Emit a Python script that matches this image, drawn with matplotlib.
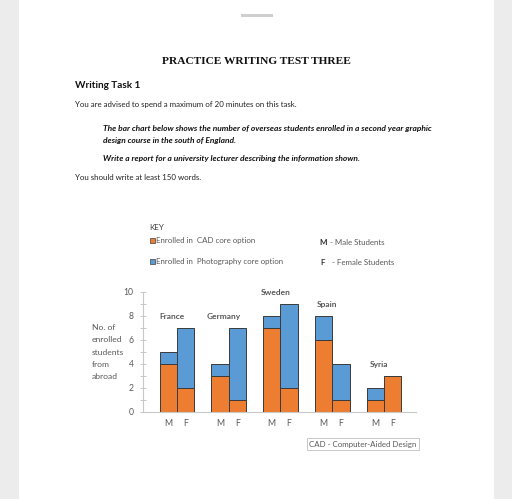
import matplotlib
matplotlib.use("Agg")
import matplotlib.pyplot as plt
from matplotlib.patches import Rectangle
import numpy as np

countries = ["France", "Germany", "Sweden", "Spain", "Syria"]
genders = ["M", "F"]
# CAD core option (orange), Photography core option (blue); [M, F] per country
cad = [[4, 2], [3, 1], [7, 2], [6, 1], [1, 3]]
photo = [[1, 5], [1, 6], [1, 7], [2, 3], [1, 0]]
yticks = [0, 2, 4, 6, 8, 10]

ORANGE = "#ED7D31"
BLUE = "#5B9BD5"
GREY_TXT = "#595959"
CHART = ["Lato", "DejaVu Sans"]
BODY = ["Lato", "DejaVu Sans"]

W, H = 512, 499
fig = plt.figure(figsize=(W / 100, H / 100), dpi=100)
fig.patch.set_facecolor("#ececec")


def fx(px):
    return px / W


def fy(py):
    return 1 - py / H


# white page + handle
fig.add_artist(Rectangle((fx(19), 0), fx(494 - 19), 1, transform=fig.transFigure,
                         facecolor="white", edgecolor="none", zorder=0))
fig.add_artist(Rectangle((fx(241), fy(17)), fx(32), 3 / H, transform=fig.transFigure,
                         facecolor="#cfcfcf", edgecolor="none", zorder=1))

# document text
fig.text(fx(256), fy(61), "PRACTICE WRITING TEST THREE", ha="center", va="center",
         family="Liberation Serif", weight="bold", fontsize=8.2, color="#111111")
fig.text(fx(75), fy(86), "Writing Task 1", ha="left", va="center",
         family=BODY, weight="bold", fontsize=7.2, color="#111111")
fig.text(fx(75), fy(104), "You are advised to spend a maximum of 20 minutes on this task.",
         ha="left", va="center", family=BODY, fontsize=5.7, color="#222222")
fig.text(fx(103), fy(128), "The bar chart below shows the number of overseas students enrolled in a second year graphic",
         ha="left", va="center", family=BODY, weight="bold", style="italic", fontsize=6.0, color="#111111")
fig.text(fx(103), fy(141), "design course in the south of England.",
         ha="left", va="center", family=BODY, weight="bold", style="italic", fontsize=6.0, color="#111111")
fig.text(fx(103), fy(158), "Write a report for a university lecturer describing the information shown.",
         ha="left", va="center", family=BODY, weight="bold", style="italic", fontsize=6.0, color="#111111")
fig.text(fx(75), fy(178), "You should write at least 150 words.",
         ha="left", va="center", family=BODY, fontsize=5.7, color="#222222")

# key
fig.text(fx(149), fy(227), "KEY", ha="left", va="center", family=CHART, fontsize=5.8,
         color="#444444")
for py, col, lab in [(240.5, ORANGE, "Enrolled in  CAD core option"),
                     (261.5, BLUE, "Enrolled in  Photography core option")]:
    fig.add_artist(Rectangle((fx(150), fy(py) - 2.5 / H), 5 / W, 5 / H, transform=fig.transFigure,
                             facecolor=col, edgecolor="#404040", linewidth=0.5))
    fig.text(fx(156.5), fy(py), lab, ha="left", va="center", family=CHART,
             fontsize=5.7, color=GREY_TXT)
fig.text(fx(319), fy(243), "M", ha="left", va="center", family=CHART, weight="bold",
         fontsize=5.8, color="#333333")
fig.text(fx(330), fy(243), "- Male Students", ha="left", va="center", family=CHART,
         fontsize=5.7, color=GREY_TXT)
fig.text(fx(320), fy(262.5), "F", ha="left", va="center", family=CHART, weight="bold",
         fontsize=5.8, color="#333333")
fig.text(fx(332), fy(262.5), "- Female Students", ha="left", va="center", family=CHART,
         fontsize=5.7, color=GREY_TXT)

# y label
for i, line in enumerate(["No. of", "enrolled", "students", "from", "abroad"]):
    fig.text(fx(92), fy(327.5 + i * 12.3), line, ha="left", va="center", family=CHART,
             fontsize=6.1, color=GREY_TXT)

# chart axes
ax = fig.add_axes([fx(142.7), fy(411.7), fx(416 - 142.7), (411.7 - 291.7) / H])
ax.set_facecolor("none")
bw = 0.335
centers = np.arange(len(countries))
for i, c in enumerate(countries):
    for j, g in enumerate(genders):
        xc = centers[i] + (j - 0.5) * bw
        ax.bar(xc, cad[i][j], width=bw, color=ORANGE, edgecolor="#3a3a3a", linewidth=0.7)
        ax.bar(xc, photo[i][j], bottom=cad[i][j], width=bw, color=BLUE,
               edgecolor="#3a3a3a", linewidth=0.7)
        ax.text(xc, -0.95, g, ha="center", va="center", family=CHART, fontsize=6.3,
                color=GREY_TXT, clip_on=False)
    top = max(cad[i][k] + photo[i][k] for k in range(2))
    ax.text(centers[i] - 0.1, top + 0.95, c, ha="center", va="center", family=CHART,
            weight="bold", fontsize=6.0, color=GREY_TXT, clip_on=False)

ax.set_xlim(-0.663, 4.62)
ax.set_ylim(0, 10)
ax.set_yticks(yticks)
ax.set_yticks(range(11), minor=True)
ax.set_yticklabels([str(t) for t in yticks], family=CHART, fontsize=6.2, color=GREY_TXT)
ax.set_xticks([])
for s in ["top", "right"]:
    ax.spines[s].set_visible(False)
for s in ["left", "bottom"]:
    ax.spines[s].set_color("#c8c8c8")
    ax.spines[s].set_linewidth(0.8)
ax.tick_params(axis="y", which="both", direction="inout", length=5, width=0.7,
               color="#c8c8c8", pad=4)

# CAD box
fig.text(fx(363), fy(444), "CAD - Computer-Aided Design", ha="center", va="center",
         family=CHART, fontsize=5.7, color=GREY_TXT,
         bbox=dict(boxstyle="square,pad=0.35", facecolor="white", edgecolor="#c8c8c8",
                   linewidth=0.7))

fig.savefig("out.png", dpi=100, facecolor=fig.get_facecolor())
